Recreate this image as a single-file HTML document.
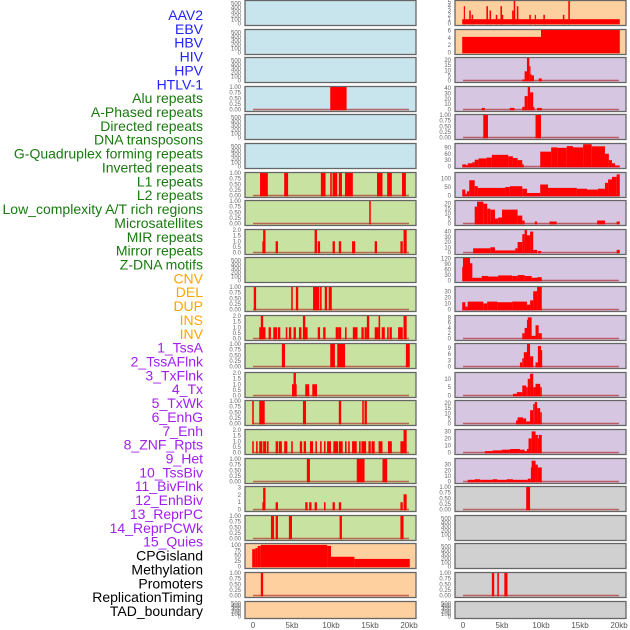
<!DOCTYPE html>
<html><head><meta charset="utf-8">
<style>
html,body{margin:0;padding:0;background:#fff;}
svg{display:block;font-family:"Liberation Sans",sans-serif;}
</style></head>
<body>
<svg id="chart" width="630" height="630" viewBox="0 0 630 630"></svg>
<script>
// ===== data =====
const trackLabels = ["AAV2","EBV","HBV","HIV","HPV","HTLV-1","Alu repeats","A-Phased repeats","Directed repeats","DNA transposons","G-Quadruplex forming repeats","Inverted repeats","L1 repeats","L2 repeats","Low_complexity A/T rich regions","Microsatellites","MIR repeats","Mirror repeats","Z-DNA motifs","CNV","DEL","DUP","INS","INV","1_TssA","2_TssAFlnk","3_TxFlnk","4_Tx","5_TxWk","6_EnhG","7_Enh","8_ZNF_Rpts","9_Het","10_TssBiv","11_BivFlnk","12_EnhBiv","13_ReprPC","14_ReprPCWk","15_Quies","CPGisland","Methylation","Promoters","ReplicationTiming","TAD_boundary"];
const labelGroups = [6,13,5,15,5];
const xTicks = [0,5,10,15,20];
const xTickLabels = ["0","5kb","10kb","15kb","20kb"];
const T500 = [0,100,200,300,400,500];
const T1 = [0,0.25,0.5,0.75,1];
const T2 = [0,0.5,1,1.5,2];
// left column: segments [startKb, endKb, value]
const leftBg = ["blue","blue","blue","blue","blue","blue","green","green","green","green","green","green","green","green","green","green","green","green","green","orange","orange","orange"];
const leftTicks = [T500,T500,T500,T1,T500,T500,T1,T1,T2,T500,T1,T2,T1,T2,T1,T2,T1,[0,1,2,3],T1,[0,25,50,75,100],T1,T500];
const leftMax = [560,560,560,1,560,560,1,1,2,560,1,2,1,2,1,2,1,3.1,1,104,1,560];
const leftData = [
 [],[],[],
 [[9.9,12.0,1]],
 [],[],
 [[0.9,1.9,1],[4.0,4.5,1],[8.7,9.3,1],[9.9,10.1,1],[10.2,10.8,1],[11.0,11.4,1],[11.8,12.8,1],[15.9,16.6,1],[17.2,17.8,1],[19.1,19.6,1]],
 [[14.9,15.1,1]],
 [[1.2,1.3,1],[1.3,1.6,2],[2.9,3.2,1],[7.9,8.2,2],[8.3,8.6,1],[10.2,10.5,1],[11.0,11.3,1],[12.7,13.1,1],[15.6,15.9,1],[18.9,19.2,1],[19.3,19.7,2]],
 [],
 [[0.1,0.4,1],[4.9,5.1,1],[5.5,5.8,1],[7.7,8.5,1],[8.6,8.8,1],[9.2,9.5,1],[9.7,10.1,1]],
 [[0.8,1.6,1],[1.0,1.3,2],[2.0,2.3,1],[2.6,3.1,1],[3.2,3.5,1],[4.2,4.4,1],[4.6,4.9,1],[5.2,5.5,1],[5.9,6.2,1],[6.4,7.0,1],[6.4,6.7,2],[8.3,8.6,1],[9.0,9.3,1],[10.6,11.0,1],[11.0,11.3,1],[11.8,12.0,1],[12.8,13.4,1],[13.9,14.2,1],[14.3,14.6,1],[14.6,14.9,2],[15.6,16.1,1],[16.1,16.3,2],[16.5,16.9,1],[17.2,17.4,1],[17.5,17.8,1],[18.6,19.2,1],[19.3,19.7,2]],
 [[3.7,4.1,1],[9.9,10.5,1],[10.8,11.8,1],[19.6,20.1,1]],
 [[5.0,5.6,1],[5.2,5.5,2],[6.7,7.2,1],[7.6,8.2,1]],
 [[-0.1,0.1,1],[0.8,1.5,1],[6.4,6.8,1],[11.0,11.3,1],[14.0,14.2,1],[14.3,14.6,1]],
 [[-0.1,0.1,1],[0.4,0.6,1],[0.8,1.2,1],[1.3,1.7,1],[1.8,2.0,1],[2.9,3.2,1],[3.3,3.7,1],[4.0,4.4,1],[4.9,5.1,1],[6.0,6.3,1],[6.5,6.8,1],[7.3,7.7,1],[8.0,8.2,1],[8.6,8.8,1],[9.1,9.3,1],[9.5,10.0,1],[10.3,10.9,1],[11.0,11.5,1],[11.8,12.0,1],[12.2,12.4,1],[12.7,13.3,1],[13.6,13.8,1],[13.9,14.5,1],[14.8,15.1,1],[15.2,15.6,1],[16.1,16.6,1],[17.3,17.8,1],[18.9,19.3,1],[19.3,19.7,2]],
 [[6.9,7.3,1],[13.3,14.3,1],[16.6,17.2,1]],
 [[1.2,1.4,1],[1.3,1.6,3],[2.9,3.2,1],[6.7,7.0,1],[7.2,7.5,1],[7.9,8.2,1],[9.1,9.3,1],[10.2,10.5,1],[11.0,11.3,1],[18.9,19.2,1],[19.3,19.7,2.1]],
 [[2.3,2.7,1],[2.9,3.2,1],[4.6,5.0,1],[11.1,11.4,1],[18.9,19.3,1]],
 [[-0.1,0.3,80],[0.3,0.6,85],[0.6,1.0,95],[1.0,9.5,100],[9.5,10.0,95],[10.0,13.0,45],[13.0,20.1,35]],
 [[1.0,1.3,1]],
 []
];
const leftBase = [0,0,0,1,0,0,1,1,1,0,1,1,1,1,1,1,1,1,1,0,1,0];
// right column
const rightBg = ["orange","orange","purple","purple","purple","purple","purple","purple","purple","purple","purple","purple","purple","purple","purple","purple","purple","gray","gray","gray","gray","gray"];
const rightTicks = [[0,1,2,3,4,5],[0,2,4,6],[0,5,10,15,20],[0,10,20,30,40],T1,[0,30,60,90],[0,50,100],[0,5,10,15,20],[0,10,20,30,40],[0,30,60,90,120],[0,10,20,30],[0,2,4,6,8],[0,3,6,9],[0,5,10],[0,5,10,15,20],[0,10,20,30],[0,10,20,30],T1,T500,T500,T1,T500];
const rightMax = [5.2,6.2,22,42,1,106,133,22.7,43,124,37,8.5,11,13.5,22,32,40,1,560,560,1,560];
const rightData = [
 [[-0.1,20.1,1],[0.1,0.2,4],[0.8,1.0,3],[1.1,1.3,2],[3.0,3.2,4],[3.4,3.6,3],[4.2,4.4,2],[4.8,5.0,4],[5.0,5.1,2],[6.3,6.5,3],[6.5,6.7,5.5],[6.9,7.1,4],[8.5,8.7,2],[9.2,9.3,2],[10.3,10.5,2],[12.8,13.0,2],[13.5,13.7,5.5]],
 [[-0.1,10.0,4.3],[10.0,20.1,6.2]],
 [[7.6,7.9,1],[7.9,8.2,9],[8.2,8.5,22],[8.5,8.6,14],[8.6,8.8,6],[8.8,9.1,5],[9.7,10.1,2]],
 [[2.4,2.8,3],[6.0,6.6,3],[7.6,7.9,5],[7.9,8.3,25],[8.3,8.6,42],[8.6,9.0,32],[9.0,9.1,5],[9.5,10.1,3]],
 [[2.6,3.2,1],[9.3,10.0,1]],
 [[-0.1,0.4,10],[0.4,0.6,6],[0.6,1.2,15],[1.2,1.5,20],[1.5,2.0,32],[2.0,3.0,38],[3.0,3.7,42],[3.7,5.8,55],[5.8,6.4,48],[6.4,7.0,40],[7.0,7.6,30],[7.6,7.8,10],[9.9,11.3,70],[11.3,12.1,90],[12.1,13.3,88],[13.3,14.1,96],[14.1,15.4,90],[15.4,16.5,105],[16.5,18.2,95],[18.2,18.7,60],[18.7,19.1,30],[19.1,19.5,15],[19.5,20.1,5]],
 [[-0.1,0.3,35],[0.3,0.5,10],[0.5,0.8,25],[0.8,1.5,90],[1.5,1.9,55],[1.9,5.4,45],[5.4,6.0,50],[6.0,7.6,55],[7.6,8.2,40],[8.2,9.9,15],[9.9,10.9,65],[10.9,14.6,45],[14.6,15.9,40],[15.9,17.3,35],[17.3,18.2,40],[18.2,18.6,75],[18.6,19.1,95],[19.1,19.7,110],[19.7,20.1,125]],
 [[1.5,1.8,17],[1.8,2.6,22],[2.6,3.1,20],[3.1,3.5,15],[3.5,4.1,14],[4.1,4.5,5],[4.5,5.0,6],[5.0,7.0,14],[7.0,7.6,8],[7.6,7.9,3],[9.2,9.5,2],[11.1,12.0,2],[17.2,18.2,3],[19.7,20.1,2]],
 [[1.3,3.5,8],[3.5,4.1,10],[4.1,6.7,4],[6.7,7.0,8],[7.0,7.6,20],[7.6,7.9,35],[7.9,8.2,45],[8.2,8.6,33],[8.6,9.0,40],[9.0,9.5,5],[9.6,10.0,3],[19.7,20.1,5]],
 [[-0.1,0.0,75],[0.0,0.9,124],[0.9,1.2,95],[1.2,2.4,15],[2.4,3.2,25],[3.2,4.5,22],[4.5,6.3,28],[6.3,7.0,25],[7.0,7.9,30],[7.9,8.8,25],[8.8,9.5,15],[9.5,10.1,18]],
 [[-0.1,0.3,12],[0.3,0.6,5],[0.6,2.6,13],[2.6,3.1,10],[3.1,4.4,13],[4.4,6.3,12],[6.3,8.2,13],[8.2,8.6,8],[8.6,9.0,15],[9.0,9.5,30],[9.5,10.1,40]],
 [[7.6,7.9,2],[7.9,8.2,4],[8.2,8.3,7],[8.3,8.8,8],[8.8,9.3,1],[9.3,9.7,5],[9.7,10.1,2]],
 [[7.3,7.6,2],[7.6,7.8,4],[7.8,8.2,7],[8.2,8.6,11],[8.6,9.0,5],[9.3,9.6,2],[9.6,10.0,10],[10.0,10.1,8]],
 [[6.4,6.9,1],[6.9,7.6,2],[7.6,8.1,6],[8.1,8.3,5],[8.3,8.6,10],[8.6,9.0,13],[9.0,9.3,5],[9.3,9.9,7],[9.9,10.1,5]],
 [[6.8,7.0,3],[7.0,7.7,6],[7.7,8.1,5],[8.1,8.6,2],[8.6,9.0,13],[9.0,9.2,19],[9.2,9.5,21],[9.5,9.9,15],[9.9,10.1,11]],
 [[2.8,3.8,2],[3.8,5.0,3],[5.0,6.0,4],[6.0,7.3,5],[7.3,7.9,4],[7.9,8.2,2],[8.2,8.4,5],[8.4,8.8,20],[8.8,9.3,30],[9.3,9.6,25],[9.6,9.7,20],[9.7,10.1,25]],
 [[0.6,1.5,3],[1.5,2.2,4],[2.2,3.8,3],[3.8,4.4,4],[4.4,5.6,3],[5.6,6.4,4],[6.4,8.3,3],[8.3,8.7,5],[8.7,8.8,25],[8.8,9.3,37],[9.3,9.6,30],[9.6,10.1,25]],
 [[8.1,8.6,1]],
 [],[],
 [[3.7,4.0,1],[4.4,4.6,1],[5.3,5.7,1]],
 []
];
const rightBase = [0,0,1,1,1,1,1,1,1,1,1,1,1,1,1,1,1,1,0,0,1,0];

// ===== layout =====
const NS = "http://www.w3.org/2000/svg";
const svg = document.getElementById('chart');
const bgColors = {blue:"#c8e4ec",green:"#c8e2a2",orange:"#ffd09f",purple:"#d6c6e2",gray:"#d0d0d0"};
const groupColors = ["#2323ff","#187a0e","#ffa500","#a020f0","#000000"];
const panelTop = i => Math.round(i*28.6);
const panelH = i => i===21 ? 17 : 25;
function mk(tag, attrs){const e=document.createElementNS(NS,tag);for(const k in attrs)e.setAttribute(k,attrs[k]);svg.appendChild(e);return e;}

// labels
let gi=0, gc=0;
trackLabels.forEach((lab,i)=>{
  if(gc>=labelGroups[gi]){gi++;gc=0;}
  gc++;
  const t=mk('text',{x:203,y:20+i*13.86,'text-anchor':'end','font-size':14,fill:groupColors[gi]});
  t.textContent=lab;
  
  
});

function drawColumn(side, x0, bgs, ticks, maxes, data, bases){
  const pl=x0, pw=171;
  const xs = kb => x0+8+kb*7.8;
  for(let i=0;i<22;i++){
    const T=panelTop(i), H=panelH(i);
    const ys = v => T+H-1.5 - Math.min(v,maxes[i])/maxes[i]*(H-2.5);
    const r=mk('rect',{x:pl,y:T+0.5,width:pw,height:H,fill:bgColors[bgs[i]],stroke:"#666",'stroke-width':1.3});
    
    
    if(bases[i]){
      const b=mk('line',{x1:xs(0),x2:xs(20),y1:ys(0),y2:ys(0),stroke:"#b03030",'stroke-opacity':0.7,'stroke-width':1.6});
      
      
    }
    data[i].forEach(d=>{
      const y=ys(d[2]);
      const bar=mk('rect',{x:xs(d[0]),y:y,width:Math.max(1.2,xs(d[1])-xs(d[0])),height:ys(0)+0.8-y,fill:"#ff0000"});
      
      
    });
    ticks[i].forEach(v=>{
      const y=ys(v);
      const lbl = (ticks[i]===T1) ? v.toFixed(2) : (ticks[i]===T2 ? v.toFixed(1) : String(v));
      const t=mk('text',{x:pl-4,y:y+2,'text-anchor':'end','font-size':6,fill:"#666"});
      t.textContent=lbl;
      
      
    });
  }
  xTicks.forEach((v,k)=>{
    const t=mk('text',{x:xs(v),y:628,'text-anchor':'middle','font-size':8,fill:"#555"});
    t.textContent=xTickLabels[k];
    
    
  });
}
drawColumn('left',245,leftBg,leftTicks,leftMax,leftData,leftBase);
drawColumn('right',455,rightBg,rightTicks,rightMax,rightData,rightBase);
</script>
</body></html>
